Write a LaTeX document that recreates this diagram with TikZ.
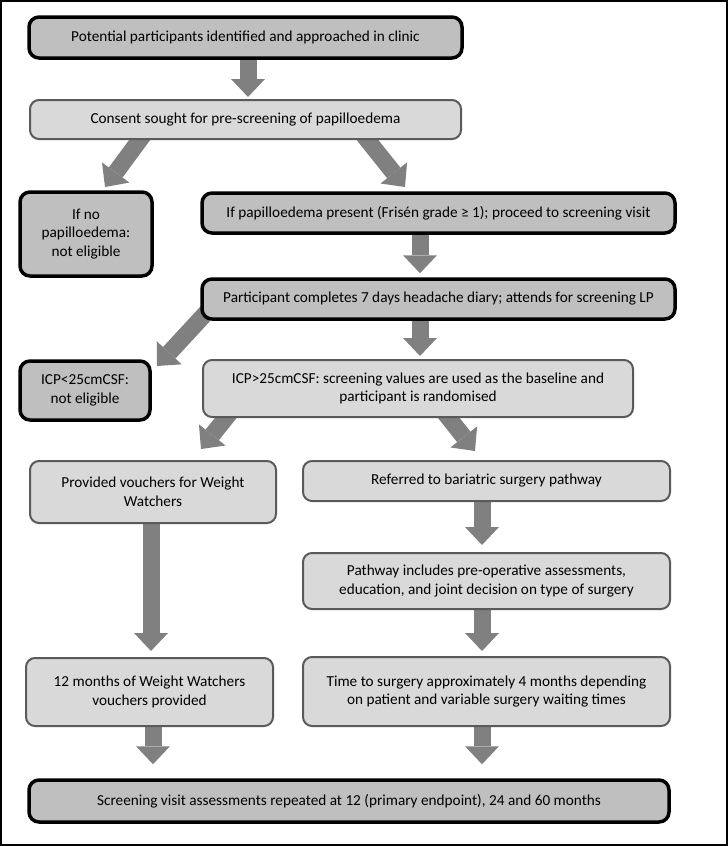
\documentclass[tikz,border=0pt]{standalone}
\usepackage{fontspec}
\setmainfont{Carlito}
\usetikzlibrary{arrows.meta,calc}
\definecolor{darkfill}{HTML}{BFBFBF}
\definecolor{lightfill}{HTML}{D9D9D9}
\definecolor{arrowgray}{HTML}{808080}
\definecolor{lightline}{HTML}{5A5A5A}
\pgfdeclarelayer{bg}
\pgfsetlayers{bg,main}
\begin{document}
\begin{tikzpicture}[x=1pt,y=-1pt,
  boxtext/.style={align=center, inner sep=0pt, font=\fontsize{15.25}{18.5}\selectfont},
  darkbox/.style={boxtext, draw=black, line width=3.5pt, fill=darkfill, rounded corners=10pt},
  lightbox/.style={boxtext, draw=lightline, line width=2pt, fill=lightfill, rounded corners=9pt},
  barrow/.style={draw=arrowgray, line width=17pt, -{Triangle[length=18pt,width=34pt,line width=0pt]}}]
\useasboundingbox (0,0) rectangle (728,846);
\draw[line width=2pt] (1,1) rectangle (727,845);

\node[darkbox, minimum width=433pt, minimum height=41pt] (b1) at (245.5,37.5) {Potential participants identified and approached in clinic};
\node[lightbox, minimum width=431pt, minimum height=39pt] (b2) at (245.5,119.5) {Consent sought for pre-screening of papilloedema};
\node[darkbox, minimum width=132pt, minimum height=84pt] (b3) at (86,234) {If no\\papilloedema:\\not eligible};
\node[darkbox, minimum width=473pt, minimum height=40pt] (b4) at (438.5,213) {If papilloedema present (Frisén grade ≥ 1); proceed to screening visit};
\node[darkbox, minimum width=473pt, minimum height=40pt] (b5) at (438.5,299) {Participant completes 7 days headache diary; attends for screening LP};
\node[darkbox, minimum width=130pt, minimum height=59pt] (b6) at (85,390.5) {ICP<25cmCSF:\\not eligible};
\node[lightbox, minimum width=430pt, minimum height=57pt] (b7) at (418,388.5) {ICP>25cmCSF: screening values are used as the baseline and\\participant is randomised};
\node[lightbox, minimum width=246pt, minimum height=62pt] (b8) at (153,492) {Provided vouchers for Weight\\Watchers};
\node[lightbox, minimum width=367pt, minimum height=40pt] (b9) at (486.5,481) {Referred to bariatric surgery pathway};
\node[lightbox, minimum width=367pt, minimum height=56pt] (b10) at (486.5,581) {Pathway includes pre-operative assessments,\\education, and joint decision on type of surgery};
\node[lightbox, minimum width=247pt, minimum height=68pt] (b11) at (149.5,692) {12 months of Weight Watchers\\vouchers provided};
\node[lightbox, minimum width=367pt, minimum height=69pt] (b12) at (486.5,691.5) {Time to surgery approximately 4 months depending\\on patient and variable surgery waiting times};
\node[darkbox, minimum width=640pt, minimum height=42pt] (b13) at (349,801) {Screening visit assessments repeated at 12 (primary endpoint), 24 and 60 months};

\coordinate (d1s) at (147,130);   \coordinate (d1e) at (105,187);
\coordinate (d2s) at (359.5,130); \coordinate (d2e) at (405,187);
\coordinate (d3s) at (218,300);   \coordinate (d3e) at (157,366);
\coordinate (d4s) at (233.7,408); \coordinate (d4e) at (201,449);
\coordinate (d5s) at (440.9,408); \coordinate (d5e) at (475,451);

\begin{pgfonlayer}{bg}
\draw[barrow, shorten >=2pt] (248,0 |- b1.south) -- (248,0 |- b2.north);
\draw[barrow] (d1s) -- (d1e);
\draw[barrow] (d2s) -- (d2e);
\draw[barrow, shorten >=4pt] (420,0 |- b4.south) -- (420,0 |- b5.north);
\draw[barrow] (d3s) -- (d3e);
\draw[barrow, shorten >=3pt] (420,0 |- b5.south) -- (420,0 |- b7.north);
\draw[barrow] (d4s) -- (d4e);
\draw[barrow] (d5s) -- (d5e);
\draw[barrow, shorten >=6pt] (151,0 |- b8.south) -- (151,0 |- b11.north);
\draw[barrow, shorten >=7pt] (482,0 |- b9.south) -- (482,0 |- b10.north);
\draw[barrow, shorten >=5pt] (482,0 |- b10.south) -- (482,0 |- b12.north);
\draw[barrow, shorten >=14pt] (153,0 |- b11.south) -- (153,0 |- b13.north);
\draw[barrow, shorten >=14pt] (482,0 |- b12.south) -- (482,0 |- b13.north);
\end{pgfonlayer}
\end{tikzpicture}
\end{document}
